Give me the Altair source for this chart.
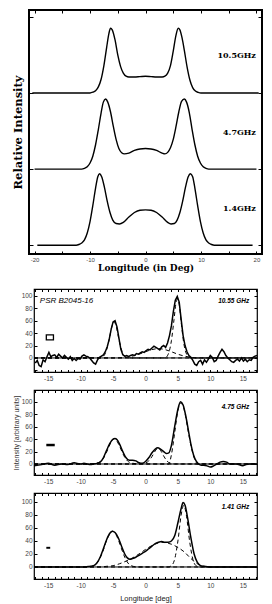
import altair as alt
import pandas as pd

# ---------------- data: upper figure (model profiles) ----------------
top_freqs = ["10.5GHz", "4.7GHz", "1.4GHz"]
top_offsets = [2, 1, 0]

x105 = [-20.4, -10, -9.5, -9, -8.5, -8, -7.5, -7, -6.6, -6.3, -6, -5.5, -5, -4.5, -4, -3.5, -3, -2, -1, 0,
        1, 2, 3, 3.5, 4, 4.5, 5, 5.5, 5.9, 6.2, 6.6, 7, 7.5, 8, 8.5, 9, 9.5, 10, 20.4]
y105 = [0, 0, 0.01, 0.03, 0.08, 0.18, 0.36, 0.6, 0.78, 0.85, 0.83, 0.7, 0.5, 0.35, 0.26, 0.22, 0.21, 0.21, 0.215, 0.22,
        0.215, 0.21, 0.21, 0.22, 0.26, 0.36, 0.55, 0.76, 0.85, 0.83, 0.72, 0.56, 0.34, 0.17, 0.07, 0.025, 0.008, 0, 0]

x47 = [-20, -11.5, -11, -10.5, -10, -9.5, -9, -8.5, -8, -7.6, -7.2, -6.8, -6.3, -5.8, -5.3, -4.8, -4.3, -3.8,
       -3, -2, -1, 0, 1, 2, 3, 3.5, 4, 4.5, 5, 5.5, 6, 6.5, 7, 7.4, 7.9, 8.4, 8.9, 9.4, 9.9, 10.4, 10.9, 11.4, 20]
y47 = [0, 0, 0.01, 0.03, 0.08, 0.17, 0.32, 0.52, 0.74, 0.88, 0.92, 0.88, 0.75, 0.56, 0.39, 0.27, 0.215, 0.2,
       0.21, 0.245, 0.265, 0.27, 0.265, 0.245, 0.21, 0.2, 0.22, 0.28, 0.39, 0.56, 0.75, 0.89, 0.92, 0.88, 0.74, 0.52,
       0.32, 0.17, 0.08, 0.03, 0.01, 0, 0]

x14 = [-19.5, -12.5, -12, -11.5, -11, -10.5, -10, -9.5, -9, -8.6, -8.3, -7.9, -7.4, -6.9, -6.4, -5.9, -5.3, -4.7,
       -4, -3, -2, -1, 0, 1, 2, 3, 4, 4.6, 5.2, 5.7, 6.2, 6.7, 7.2, 7.7, 8.1, 8.5, 8.9, 9.4, 9.9, 10.4, 10.9, 11.4,
       11.9, 12.4, 19.3]
y14 = [0, 0, 0.01, 0.03, 0.07, 0.16, 0.31, 0.52, 0.75, 0.9, 0.94, 0.9, 0.76, 0.58, 0.43, 0.33, 0.285, 0.28,
       0.3, 0.37, 0.43, 0.46, 0.465, 0.46, 0.43, 0.37, 0.3, 0.28, 0.285, 0.33, 0.43, 0.58, 0.76, 0.9, 0.94, 0.9, 0.75,
       0.52, 0.31, 0.16, 0.07, 0.03, 0.01, 0, 0]

# ---------------- data: lower figure (observed profiles) ----------------
psr_name = "PSR B2045-16"
panel_freqs = ["10.55 GHz", "4.75 GHz", "1.41 GHz"]

p1_x = [-17.0, -16.7, -16.4, -16.1, -15.8, -15.5, -15.2, -14.9, -14.6, -14.3,
        -14.0, -13.7, -13.4, -13.1, -12.8, -12.5, -12.2, -11.9, -11.6, -11.3,
        -11.0, -10.7, -10.4, -10.1, -9.8, -9.5, -9.2, -8.9, -8.6, -8.3,
        -8.0, -7.7, -7.4, -7.1, -6.8, -6.5, -6.2, -5.9, -5.6, -5.3,
        -5.0, -4.7, -4.4, -4.1, -3.8, -3.5, -3.2, -2.9, -2.6, -2.3,
        -2.0, -1.7, -1.4, -1.1, -0.8, -0.5, -0.2, 0.1, 0.4, 0.7,
        1.0, 1.3, 1.6, 1.9, 2.2, 2.5, 2.8, 3.1, 3.4, 3.7,
        4.0, 4.3, 4.6, 4.9, 5.2, 5.5, 5.8, 6.1, 6.4, 6.7,
        7.0, 7.3, 7.6, 7.9, 8.2, 8.5, 8.8, 9.1, 9.4, 9.7,
        10.0, 10.3, 10.6, 10.9, 11.2, 11.5, 11.8, 12.1, 12.4, 12.7,
        13.0, 13.3, 13.6, 13.9, 14.2, 14.5, 14.8, 15.1, 15.4, 15.7,
        16.0, 16.3, 16.6, 16.9, 17.2]
p1_y = [-8, -4, -12, -14, -3, -6, 2, 9, 2, 4,
        5, 1, 6, 3, 0, 4, 1, -2, 2, -4,
        -1, -4, -1, -2, 3, 5, 3, 2, 0, -4,
        -8, -10, -3, 1, 3, 5, 10, 18, 30, 46,
        58, 60, 50, 32, 14, 5, 3, 4, 2, 4,
        5, 4, 7, 6, 8, 10, 9, 12, 14, 13,
        16, 19, 17, 15, 13, 18, 20, 17, 24, 36,
        52, 75, 93, 99, 90, 62, 36, 20, 10, 4,
        1, -4, -10, -12, -6, -4, -10, -3, -7, -2,
        4, 1, -6, -4, 3, 9, 14, 10, 4, 0,
        -3, -6, -7, -4, -2, -5, 0, -5, -2, -6,
        -3, -4, 1, 3, 4]
p1_c1_x = [-17.2, -7.5, -6.6, -6.1, -5.6, -5.2, -4.85, -4.5, -4.1, -3.6, -3.1, -2.2, 17.2]
p1_c1_y = [0, 0, 2, 10, 30, 50, 58, 50, 30, 10, 2, 0, 0]
p1_c2_x = [-17.2, -5, -3, -2, -1, 0, 1, 2, 3, 4, 5, 6, 7, 8, 17.2]
p1_c2_y = [0, 0, 1, 3, 6, 10, 13.5, 15, 13.5, 10, 6, 3, 1, 0, 0]
p1_c3_x = [-17.2, 3.0, 3.5, 4.0, 4.4, 4.7, 4.95, 5.2, 5.5, 5.9, 6.4, 7.0, 17.2]
p1_c3_y = [0, 0, 6, 28, 62, 88, 95, 86, 58, 24, 5, 0, 0]

p2_x = [-17.2, -16, -15, -14, -13, -12, -11, -10.5, -10, -9.5,
        -9, -8.5, -8, -7.5, -7, -6.5, -6, -5.5, -5, -4.7,
        -4.3, -4, -3.5, -3, -2.5, -2, -1.5, -1, -0.5, 0,
        0.5, 1, 1.5, 1.9, 2.3, 2.8, 3.2, 3.6, 4, 4.5,
        5, 5.4, 5.8, 6.2, 6.6, 7, 7.4, 7.8, 8.2, 8.6,
        9, 9.5, 10, 10.5, 11, 11.5, 12, 12.5, 13, 14,
        15, 15.5, 16, 17.2]
p2_y = [-3, -1, 1, -2, 0, -1, 2, 1, 0, 1,
        0, -1, 0, 1, 3, 10, 22, 33, 40, 41,
        38, 32, 20, 10, 6, 6, 5, 2, 1, 4,
        10, 18, 24, 26, 24, 20, 17, 18, 30, 60,
        88, 100, 95, 78, 55, 32, 15, 5, 0, -2,
        -2, -3, -5, -3, 0, 3, 4, 3, 0, 0,
        -3, -1, 0, 0]
p2_c1_x = [-17.2, -8.5, -7.5, -7, -6.5, -6, -5.5, -4.8, -4.1, -3.6, -3.1, -2.6, -2.1, -1, 17.2]
p2_c1_y = [0, 0, 1.5, 3.5, 9, 19, 31, 41, 31, 19, 9, 3.5, 1.5, 0, 0]
p2_c2_x = [-17.2, -1, 0, 0.5, 1, 1.5, 1.9, 2.3, 2.8, 3.3, 3.8, 4.5, 17.2]
p2_c2_y = [0, 0, 1.5, 5, 12, 21, 25, 22, 13, 5, 1.2, 0, 0]
p2_c3_x = [-17.2, 3.6, 4.0, 4.5, 5.0, 5.4, 5.8, 6.2, 6.6, 7.0, 7.5, 8.1, 17.2]
p2_c3_y = [0, 0, 15, 50, 86, 98, 93, 76, 52, 30, 10, 0, 0]

p3_x = [-17.2, -10, -9, -8.5, -8, -7.5, -7, -6.5, -6, -5.5,
        -5.1, -4.7, -4.2, -3.7, -3.2, -2.8, -2.4, -2, -1.5, -1,
        -0.5, 0, 0.5, 1, 1.5, 2, 2.5, 3, 3.5, 4,
        4.5, 5, 5.5, 5.8, 6.1, 6.5, 7, 7.5, 8, 8.5,
        9, 10, 17.2]
p3_y = [0, 0, 0.5, 1, 2, 6, 15, 28, 42, 52,
        55, 53, 45, 32, 20, 14, 12, 13, 15, 18,
        21, 24, 28, 32, 36, 38, 39, 38, 38, 40,
        48, 68, 90, 99, 95, 75, 45, 20, 7, 2,
        1, 0, 0]
p3_c1_x = [-17.2, -9, -8, -7.5, -7, -6.5, -6, -5.5, -5.1, -4.7, -4.2, -3.7, -3.2, -2.7, -2.2, -1.2, 17.2]
p3_c1_y = [0, 0, 2, 6, 14, 26, 41, 51, 55, 52, 42, 28, 15, 6, 2, 0, 0]
p3_c2_x = [-17.2, -7, -6, -5, -4, -3, -2, -1, 0, 1, 2, 2.5, 3, 4, 5, 6, 7, 8, 9, 10, 17.2]
p3_c2_y = [0, 0, 1, 2, 5, 9, 14, 20, 27, 33, 37, 38, 37.5, 35, 30, 23, 13, 5, 1, 0, 0]
p3_c3_x = [-17.2, 3.5, 4, 4.5, 5, 5.5, 5.9, 6.3, 6.8, 7.3, 7.8, 8.4, 17.2]
p3_c3_y = [0, 0, 2, 12, 40, 80, 95, 80, 40, 12, 2, 0, 0]

# resolution markers
res_x1 = [-15.3, -15.3, -15.3]
res_x2 = [-14.2, -14.0, -14.7]
res_y1 = [29, 28.5, 28]
res_y2 = [37, 32.5, 31]
res_filled = [False, True, True]

# ---------------- styling helpers ----------------
SANS = "Liberation Sans"
SERIF = "DejaVu Serif"
MINUS = "datum.value < 0 ? '-' + abs(datum.value) : '' + datum.value"


def tick_axis(orient, values, size):
    return alt.Axis(orient=orient, values=values, offset=-size, tickSize=size, labels=False,
                    domain=False, title=None, tickColor="black", tickWidth=1)


def spacer():
    return alt.Chart(pd.DataFrame({"s": [0]})).mark_point(opacity=0, size=1).properties(
        width=1, height=1, view=alt.ViewBackground(stroke="transparent")
    )


# ---------------- upper figure ----------------
XT = alt.Scale(domain=[-21, 21], nice=False, zero=False)
YT = alt.Scale(domain=[-0.115, 3.09], nice=False, zero=False)
top_xvals_major = [-20, -10, 0, 10, 20]
top_xvals_ticks = [-20, -15, -10, -5, 0, 5, 10, 15, 20]
top_yvals = [0, 1, 2, 3]

ax_top_x_lab = alt.Axis(orient="bottom", values=top_xvals_major, ticks=False, domain=False,
                        labelFontSize=6, labelPadding=2, labelExpr=MINUS, labelFont=SANS, labelColor="#444",
                        title="Longitude (in Deg)", titleFont=SERIF, titleFontWeight="bold",
                        titleFontSize=9, titlePadding=1, titleColor="black")
ax_top_y_lab = alt.Axis(orient="left", labels=False, ticks=False, domain=False,
                        title="Relative Intensity", titleFont=SERIF, titleFontWeight="bold",
                        titleFontSize=11.5, titlePadding=6, titleColor="black")

top_axes = [
    (ax_top_x_lab, ax_top_y_lab),
    (tick_axis("bottom", top_xvals_ticks, 3), tick_axis("left", top_yvals, 4)),
    (tick_axis("top", top_xvals_ticks, 3), tick_axis("right", top_yvals, 4)),
]

top_layers = []
for (xs_, ys_, off), (axx, axy) in zip([(x105, y105, top_offsets[0]), (x47, y47, top_offsets[1]),
                                         (x14, y14, top_offsets[2])], top_axes):
    df = pd.DataFrame({"lon": xs_, "val": [off + v for v in ys_]})
    top_layers.append(
        alt.Chart(df).mark_line(color="black", strokeWidth=1.4, interpolate="monotone").encode(
            x=alt.X("lon:Q", scale=XT, axis=axx),
            y=alt.Y("val:Q", scale=YT, axis=axy),
        )
    )

top_lab_df = pd.DataFrame({"label": top_freqs, "lon": [19.9] * 3, "val": [o + 0.48 for o in top_offsets]})
top_layers.append(
    alt.Chart(top_lab_df).mark_text(align="right", baseline="middle", font=SERIF, fontWeight="bold",
                                    fontSize=8, color="black").encode(
        x=alt.X("lon:Q", scale=XT, axis=None),
        y=alt.Y("val:Q", scale=YT, axis=None),
        text="label:N",
    )
)

top_chart = alt.layer(*top_layers).resolve_axis(x="independent", y="independent").properties(
    width=233, height=244, view=alt.ViewBackground(stroke="black", strokeWidth=2)
)

# ---------------- lower figure ----------------
XB = alt.Scale(domain=[-17.2, 17.2], nice=False, zero=False)
bot_xvals_major = [-15, -10, -5, 0, 5, 10, 15]
bot_xvals_ticks = list(range(-17, 18))
p_ydom = [[-22.6, 111], [-17.7, 119], [-18.5, 113.8]]
p_yticks = [[-20, 0, 20, 40, 60, 80, 100], [0, 20, 40, 60, 80, 100], [0, 20, 40, 60, 80, 100]]
p_heights = [83, 85, 86]

panel_data = [
    (p1_x, p1_y, [(p1_c1_x, p1_c1_y), (p1_c2_x, p1_c2_y), (p1_c3_x, p1_c3_y)], "linear"),
    (p2_x, p2_y, [(p2_c1_x, p2_c1_y), (p2_c2_x, p2_c2_y), (p2_c3_x, p2_c3_y)], "monotone"),
    (p3_x, p3_y, [(p3_c1_x, p3_c1_y), (p3_c2_x, p3_c2_y), (p3_c3_x, p3_c3_y)], "monotone"),
]


def bottom_panel(i):
    dx, dy, comps, interp = panel_data[i]
    ys = alt.Scale(domain=p_ydom[i], nice=False, zero=False)

    xlab = dict(orient="bottom", values=bot_xvals_major, ticks=False, domain=False, labelFontSize=6.5,
                labelPadding=3, labelExpr=MINUS, labelFont=SANS, labelColor="#444")
    if i == 2:
        xlab.update(title="Longitude [deg]", titleFont=SANS, titleFontSize=7.5, titleFontWeight="normal",
                    titlePadding=6, titleColor="#222")
    else:
        xlab.update(title=None)
    ylab = dict(orient="left", values=[0, 20, 40, 60, 80, 100], ticks=False, domain=False, labelFontSize=6.5,
                labelPadding=2, labelFont=SANS, labelColor="#444")
    if i == 1:
        ylab.update(title="Intensity [arbitrary units]", titleFont=SANS, titleFontSize=7,
                    titleFontWeight="normal", titlePadding=2, titleColor="#333")
    else:
        ylab.update(title=None)

    df = pd.DataFrame({"lon": dx, "inten": dy})
    solid = alt.Chart(df).mark_line(color="black", strokeWidth=1.5, interpolate=interp).encode(
        x=alt.X("lon:Q", scale=XB, axis=alt.Axis(**xlab)),
        y=alt.Y("inten:Q", scale=ys, axis=alt.Axis(**ylab)),
    )

    rows = []
    for k, (cx, cy) in enumerate(comps):
        for a, b in zip(cx, cy):
            rows.append({"comp": k, "lon": a, "inten": b})
    cdf = pd.DataFrame(rows)
    dashed = alt.Chart(cdf).mark_line(color="black", strokeWidth=1, strokeDash=[4, 3],
                                      interpolate="monotone").encode(
        x=alt.X("lon:Q", scale=XB, axis=tick_axis("bottom", bot_xvals_ticks, 2.5)),
        y=alt.Y("inten:Q", scale=ys, axis=tick_axis("left", p_yticks[i], 3)),
        detail="comp:N",
    )

    rdf = pd.DataFrame({"x1": [res_x1[i]], "x2": [res_x2[i]], "y1": [res_y1[i]], "y2": [res_y2[i]]})
    if res_filled[i]:
        rmark = alt.Chart(rdf).mark_rect(color="black")
    else:
        rmark = alt.Chart(rdf).mark_rect(fillOpacity=0, stroke="black", strokeWidth=1.3)
    rect = rmark.encode(
        x=alt.X("x1:Q", scale=XB, axis=tick_axis("top", bot_xvals_ticks, 2.5)),
        x2="x2:Q",
        y=alt.Y("y1:Q", scale=ys, axis=tick_axis("right", p_yticks[i], 3)),
        y2="y2:Q",
    )

    zdf = pd.DataFrame({"z": [0]})
    zero = alt.Chart(zdf).mark_rule(color="black", strokeWidth=1).encode(
        y=alt.Y("z:Q", scale=ys, axis=None)
    )

    fdf = pd.DataFrame({"label": [panel_freqs[i]], "lon": [16.0], "inten": [92]})
    ftext = alt.Chart(fdf).mark_text(align="right", baseline="middle", font=SANS, fontStyle="italic",
                                     fontWeight="bold", fontSize=6.5, color="black").encode(
        x=alt.X("lon:Q", scale=XB, axis=None),
        y=alt.Y("inten:Q", scale=ys, axis=None),
        text="label:N",
    )
    layers = [solid, dashed, rect, zero, ftext]
    if i == 0:
        ndf = pd.DataFrame({"label": [psr_name], "lon": [-16.3], "inten": [92]})
        layers.append(
            alt.Chart(ndf).mark_text(align="left", baseline="middle", font=SANS, fontStyle="italic",
                                     fontSize=8, color="black").encode(
                x=alt.X("lon:Q", scale=XB, axis=None),
                y=alt.Y("inten:Q", scale=ys, axis=None),
                text="label:N",
            )
        )
    return alt.layer(*layers).resolve_axis(x="independent", y="independent").properties(
        width=223, height=p_heights[i]
    )


panels = alt.vconcat(bottom_panel(0), bottom_panel(1), bottom_panel(2), spacing=5)
top_row = alt.hconcat(spacer(), top_chart, spacing=0)
bottom_row = alt.hconcat(spacer(), panels, spacing=0)

chart = alt.vconcat(top_row, bottom_row, spacing=14).properties(
    padding=0
).configure_view(stroke="black", strokeWidth=1.2).configure_axis(grid=False)

chart.save("out.html", embed_options={"renderer": "svg", "actions": False})
